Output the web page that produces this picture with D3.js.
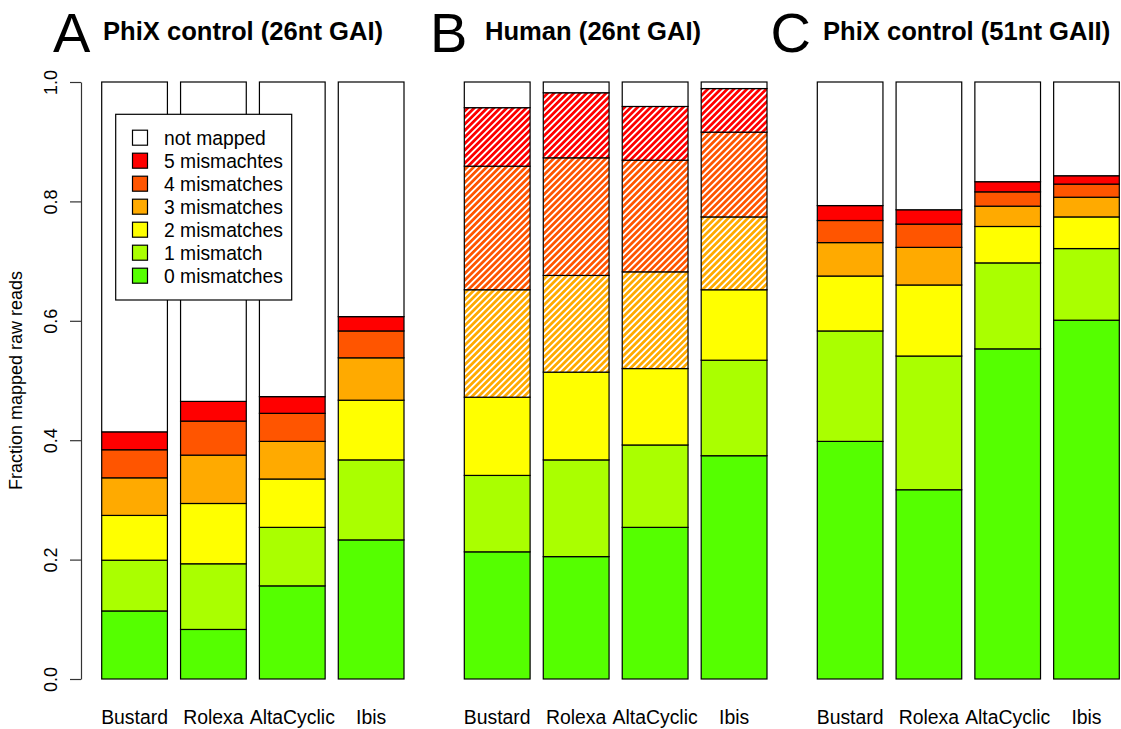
<!DOCTYPE html>
<html>
<head>
<meta charset="utf-8">
<script src="https://cdn.jsdelivr.net/npm/d3@7"></script>
<style>
  html, body { margin: 0; padding: 0; background: #fff; }
  svg { display: block; font-family: "Liberation Sans", Arial, Helvetica, sans-serif; }
</style>
</head>
<body>
<svg id="chart" width="1121" height="729"></svg>
<script>
// Base callers compared in every panel
const categories = ["Bustard", "Rolexa", "AltaCyclic", "Ibis"];

// Mismatch classes, stacked bottom to top
const classes = ["0 mismatches", "1 mismatch", "2 mismatches", "3 mismatches", "4 mismatches", "5 mismachtes"];
const classColors = ["#55FF00", "#AAFF00", "#FFFF00", "#FFAA00", "#FF5500", "#FF0000"];
const notMappedLabel = "not mapped";

// Fraction of raw reads per mismatch class (rows: callers, cols: 0..5 mismatches)
const phix26 = [
  [0.114, 0.085, 0.075, 0.063, 0.047, 0.030],
  [0.083, 0.110, 0.101, 0.081, 0.057, 0.033],
  [0.156, 0.098, 0.081, 0.063, 0.047, 0.028],
  [0.233, 0.134, 0.100, 0.071, 0.045, 0.024]
];
const human26 = [
  [0.213, 0.128, 0.131, 0.180, 0.207, 0.098],
  [0.205, 0.162, 0.147, 0.162, 0.197, 0.109],
  [0.254, 0.138, 0.128, 0.162, 0.187, 0.090],
  [0.374, 0.160, 0.118, 0.122, 0.142, 0.073]
];
const phix51 = [
  [0.398, 0.185, 0.092, 0.056, 0.037, 0.025],
  [0.317, 0.224, 0.119, 0.063, 0.039, 0.024],
  [0.553, 0.144, 0.061, 0.034, 0.024, 0.017],
  [0.601, 0.120, 0.053, 0.033, 0.022, 0.014]
];

// Classes drawn hatched (reads also matching elsewhere in the genome)
const hatchedA = [];
const hatchedB = [3, 4, 5];
const hatchedC = [];

const panelLetters = ["A", "B", "C"];
const panelTitles = ["PhiX control (26nt GAI)", "Human (26nt GAI)", "PhiX control (51nt GAII)"];

const yTicks = [0, 0.2, 0.4, 0.6, 0.8, 1.0];
const yLabel = "Fraction mapped raw reads";

// ---------- layout ----------
const svg = d3.select("#chart");
const y = d3.scaleLinear().domain([0, 1]).range([679, 82]);

const panels = [
  { data: phix26, hatched: hatchedA, range: [101.7, 404], letterX: 53, titleX: 103 },
  { data: human26, hatched: hatchedB, range: [464.3, 767], letterX: 430, titleX: 485 },
  { data: phix51, hatched: hatchedC, range: [817.3, 1119.3], letterX: 770.5, titleX: 823 }
];

// hatch patterns
const defs = svg.append("defs");
classColors.forEach((c, i) => {
  const p = defs.append("pattern")
    .attr("id", "hatch-" + i)
    .attr("patternUnits", "userSpaceOnUse")
    .attr("width", 4.6).attr("height", 4.6)
    .attr("patternTransform", "rotate(45)");
  p.append("rect").attr("width", 4.6).attr("height", 4.6).attr("fill", "#fff");
  p.append("line").attr("x1", 2.3).attr("x2", 2.3).attr("y1", -1).attr("y2", 5.6)
    .attr("stroke", c).attr("stroke-width", 2.8);
});

const stack = d3.stack().keys(d3.range(classes.length + 1));

panels.forEach((pn, pi) => {
  const x = d3.scaleBand().domain(categories).range(pn.range)
    .paddingInner(0.2 / 1.2).paddingOuter(0);

  const rows = pn.data.map(r => {
    const o = {};
    r.forEach((v, k) => o[k] = v);
    o[classes.length] = 1 - d3.sum(r);
    return o;
  });
  const series = stack(rows);

  const g = svg.append("g").attr("class", "panel");
  series.forEach(s => {
    const k = s.key;
    const isNot = k === classes.length;
    const hatched = pn.hatched.includes(k);
    g.selectAll(null).data(s).join("rect")
      .attr("x", (d, i) => x(categories[i]))
      .attr("width", x.bandwidth())
      .attr("y", d => y(d[1]))
      .attr("height", d => y(d[0]) - y(d[1]))
      .attr("fill", isNot ? "#fff" : (hatched ? `url(#hatch-${k})` : classColors[k]))
      .attr("stroke", "#000")
      .attr("stroke-width", 1.2);
  });

  // category labels
  g.selectAll(null).data(categories).join("text")
    .attr("x", d => x(d) + x.bandwidth() / 2)
    .attr("y", 724)
    .attr("text-anchor", "middle")
    .attr("font-size", 19.4)
    .attr("fill", "#000")
    .text(d => d);

  // panel letter and title
  svg.append("text").attr("x", pn.letterX).attr("y", 52)
    .attr("font-size", 56).attr("fill", "#000").text(panelLetters[pi]);
  svg.append("text").attr("x", pn.titleX).attr("y", 40)
    .attr("font-size", 25.6).attr("font-weight", "bold").attr("fill", "#000")
    .text(panelTitles[pi]);
});

// y axis (first panel only)
const yAxis = svg.append("g").attr("transform", "translate(81,0)")
  .call(d3.axisLeft(y).tickValues(yTicks).tickFormat(d3.format(".1f"))
    .tickSize(11).tickSizeOuter(0));
yAxis.select(".domain").attr("stroke", "#333").attr("stroke-width", 1.2);
yAxis.selectAll(".tick line").attr("stroke", "#333").attr("stroke-width", 1.2);
yAxis.selectAll(".tick text")
  .attr("transform", "rotate(-90)")
  .attr("x", 0).attr("y", -24.3).attr("dy", 0)
  .attr("text-anchor", "middle")
  .attr("font-size", 18)
  .attr("font-family", "Liberation Sans, Arial, sans-serif")
  .attr("fill", "#000");

svg.append("text")
  .attr("transform", `translate(22,${(y(0) + y(1)) / 2}) rotate(-90)`)
  .attr("text-anchor", "middle")
  .attr("font-size", 18)
  .attr("fill", "#000")
  .text(yLabel);

// legend
const legendItems = [{ label: notMappedLabel, color: "#fff" }]
  .concat(classes.map((c, i) => ({ label: c, color: classColors[i] })).reverse());
const lg = svg.append("g").attr("class", "legend");
lg.append("rect").attr("x", 115.7).attr("y", 114.3).attr("width", 176).attr("height", 185.7)
  .attr("fill", "#fff").attr("stroke", "#000").attr("stroke-width", 1.2);
const li = lg.selectAll(".item").data(legendItems).join("g")
  .attr("transform", (d, i) => `translate(0,${137.7 + 23 * i})`);
li.append("rect").attr("x", 132.5).attr("y", -7.5).attr("width", 15).attr("height", 15)
  .attr("fill", d => d.color).attr("stroke", "#000").attr("stroke-width", 1.2);
li.append("text").attr("x", 164).attr("y", 7).attr("font-size", 19.3).attr("fill", "#000")
  .text(d => d.label);
</script>
</body>
</html>
